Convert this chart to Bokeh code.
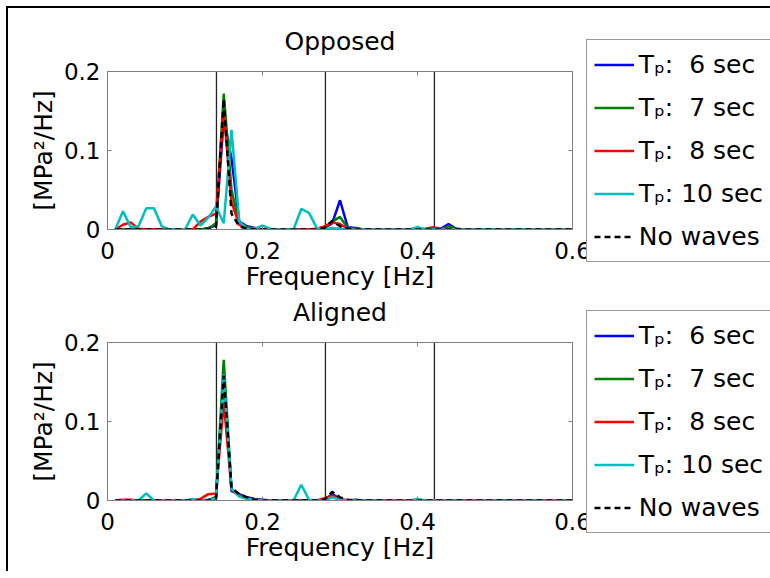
from bokeh.plotting import figure
from bokeh.layouts import column
from bokeh.models import (ColumnDataSource, FixedTicker, LinearAxis, Legend, LegendItem,
                          Range1d, Span, NumeralTickFormatter)
from bokeh.embed import file_html
from bokeh.resources import INLINE

# ---------------- data ----------------
freq = [0.01, 0.02, 0.03, 0.04, 0.05, 0.06, 0.07, 0.08, 0.09, 0.10,
        0.11, 0.12, 0.13, 0.14, 0.15, 0.16, 0.17, 0.18, 0.19, 0.20,
        0.21, 0.22, 0.23, 0.24, 0.25, 0.26, 0.27, 0.28, 0.29, 0.30,
        0.31, 0.32, 0.33, 0.34, 0.35, 0.36, 0.37, 0.38, 0.39, 0.40,
        0.41, 0.42, 0.43, 0.44, 0.45, 0.46, 0.47, 0.48, 0.49, 0.50,
        0.51, 0.52, 0.53, 0.54, 0.55, 0.56, 0.57, 0.58, 0.59, 0.60]

# Opposed
opp_6 = [0, 0, 0, 0, 0, 0, 0, 0, 0, 0,
         0, 0, 0.002, 0.005, 0.14, 0.09, 0.01, 0.004, 0.002, 0,
         0, 0, 0, 0, 0, 0, 0, 0.002, 0.008, 0.037,
         0.003, 0.002, 0, 0, 0, 0, 0, 0, 0, 0,
         0, 0, 0.001, 0.007, 0.001, 0, 0, 0, 0, 0,
         0, 0, 0, 0, 0, 0, 0, 0, 0, 0]
opp_7 = [0, 0, 0, 0, 0, 0, 0, 0, 0, 0,
         0, 0, 0.001, 0.008, 0.172, 0.05, 0.008, 0.003, 0.001, 0,
         0, 0, 0, 0, 0, 0, 0, 0.002, 0.01, 0.016,
         0.002, 0.001, 0, 0, 0, 0, 0, 0, 0, 0,
         0, 0, 0, 0.004, 0.001, 0, 0, 0, 0, 0,
         0, 0, 0, 0, 0, 0, 0, 0, 0, 0]
opp_8 = [0, 0.006, 0.009, 0.001, 0, 0, 0, 0, 0, 0,
         0, 0.01, 0.016, 0.02, 0.15, 0.035, 0.006, 0.002, 0.001, 0,
         0, 0, 0, 0, 0, 0, 0.001, 0.004, 0.009, 0.007,
         0.001, 0, 0, 0, 0, 0, 0, 0, 0, 0,
         0.001, 0.003, 0.001, 0, 0, 0, 0, 0, 0, 0,
         0, 0, 0, 0, 0, 0, 0, 0, 0, 0]
opp_10 = [0, 0.023, 0.003, 0.004, 0.027, 0.027, 0.004, 0, 0, 0,
          0.019, 0.005, 0.015, 0.029, 0.008, 0.126, 0.01, 0.001, 0.001, 0.005,
          0.001, 0, 0, 0, 0.026, 0.021, 0.002, 0, 0.002, 0.001,
          0, 0, 0, 0, 0, 0, 0, 0, 0, 0.003,
          0, 0, 0, 0, 0, 0, 0, 0, 0, 0,
          0, 0, 0, 0, 0, 0, 0, 0, 0, 0]
opp_nw = [0, 0, 0, 0, 0, 0, 0, 0, 0, 0,
          0, 0, 0, 0.004, 0.165, 0.02, 0.004, 0.001, 0, 0,
          0, 0, 0, 0, 0, 0, 0, 0.002, 0.011, 0.004,
          0.001, 0, 0, 0, 0, 0, 0, 0, 0, 0,
          0, 0, 0, 0, 0, 0, 0, 0, 0, 0,
          0, 0, 0, 0, 0, 0, 0, 0, 0, 0]

# Aligned
al_6 = [0, 0, 0, 0, 0, 0, 0, 0, 0, 0,
        0, 0, 0.001, 0.003, 0.16, 0.012, 0.008, 0.004, 0.002, 0.001,
        0, 0, 0, 0, 0, 0, 0, 0.001, 0.008, 0.002,
        0, 0.001, 0, 0, 0, 0, 0, 0, 0, 0,
        0, 0, 0, 0, 0, 0, 0, 0, 0, 0,
        0, 0, 0, 0, 0, 0, 0, 0, 0, 0]
al_7 = [0, 0, 0, 0, 0, 0, 0, 0, 0, 0,
        0, 0, 0, 0.005, 0.178, 0.014, 0.006, 0.003, 0.001, 0,
        0, 0, 0, 0, 0, 0, 0, 0.001, 0.005, 0.001,
        0, 0, 0, 0, 0, 0, 0, 0, 0, 0,
        0, 0, 0, 0, 0, 0, 0, 0, 0, 0,
        0, 0, 0, 0, 0, 0, 0, 0, 0, 0]
al_8 = [0, 0.001, 0.001, 0, 0, 0, 0, 0, 0, 0,
        0, 0.002, 0.008, 0.009, 0.125, 0.014, 0.006, 0.002, 0.001, 0,
        0, 0, 0, 0, 0, 0, 0, 0.003, 0.006, 0.001,
        0, 0, 0, 0, 0, 0, 0, 0, 0, 0,
        0, 0, 0, 0, 0, 0, 0, 0, 0, 0,
        0, 0, 0, 0, 0, 0, 0, 0, 0, 0]
al_10 = [0, 0, 0, 0, 0.009, 0, 0, 0, 0, 0,
         0.002, 0, 0, 0.003, 0.16, 0.015, 0.005, 0.002, 0.001, 0,
         0, 0, 0, 0, 0.02, 0.001, 0, 0, 0.004, 0.001,
         0, 0, 0, 0, 0, 0, 0, 0, 0, 0.002,
         0, 0, 0, 0, 0, 0, 0, 0, 0, 0,
         0, 0, 0, 0, 0, 0, 0, 0, 0, 0]
al_nw = [0, 0, 0, 0, 0, 0, 0, 0, 0, 0,
         0, 0, 0, 0.003, 0.158, 0.016, 0.008, 0.004, 0.001, 0,
         0, 0, 0, 0, 0, 0, 0, 0.001, 0.011, 0.004,
         0.001, 0, 0, 0, 0, 0, 0, 0, 0, 0,
         0, 0, 0, 0, 0, 0, 0, 0, 0, 0,
         0, 0, 0, 0, 0, 0, 0, 0, 0, 0]

vline_freqs = [0.1406, 0.2812, 0.4218]
x_ticks = [0, 0.2, 0.4, 0.6]
y_ticks = [0, 0.1, 0.2]
labels = ["T\u209a:  6 sec", "T\u209a:  7 sec", "T\u209a:  8 sec", "T\u209a: 10 sec", "No waves"]
colors = ["#0000ff", "#008000", "#ff0000", "#00bfbf", "#000000"]

FONT = "DejaVu Sans"
GRAY = "#7f7f7f"


def make_panel(title, series, b_top, b_bottom, title_standoff, transparent=False):
    p = figure(frame_width=465, frame_height=158, output_backend="svg", toolbar_location=None,
               x_range=Range1d(0, 0.6), y_range=Range1d(0, 0.2),
               min_border_left=99, min_border_right=198,
               min_border_top=b_top, min_border_bottom=b_bottom,
               background_fill_color="white", border_fill_color="white")
    if transparent:
        p.border_fill_alpha = 0
    p.grid.visible = False
    p.outline_line_color = GRAY
    p.outline_line_width = 1

    p.title.text = title
    p.title.align = "center"
    p.title.text_font = FONT
    p.title.text_font_size = "25px"
    p.title.text_font_style = "normal"
    p.title.text_color = "black"
    p.title.standoff = title_standoff

    for vf in vline_freqs:
        p.add_layout(Span(location=vf, dimension="height", line_color="#222222",
                          line_width=1.3, level="underlay"))

    src = ColumnDataSource(dict(f=freq, **{f"s{i}": s for i, s in enumerate(series)}))
    rends = []
    for i, c in enumerate(colors):
        if i == 4:
            r = p.line("f", f"s{i}", source=src, line_color=c, line_width=2.5, line_dash="6 4")
        else:
            r = p.line("f", f"s{i}", source=src, line_color=c, line_width=2.5)
        rends.append(r)

    # axes
    p.xaxis.ticker = FixedTicker(ticks=x_ticks)
    p.yaxis.ticker = FixedTicker(ticks=y_ticks)
    p.xaxis.formatter = NumeralTickFormatter(format="0.[0]")
    p.yaxis.formatter = NumeralTickFormatter(format="0.[0]")
    p.xaxis.axis_label = "Frequency [Hz]"
    p.yaxis.axis_label = "[MPa\u00b2/Hz]"
    for ax in (p.xaxis[0], p.yaxis[0]):
        ax.axis_line_color = GRAY
        ax.major_tick_line_color = GRAY
        ax.major_tick_in = 4
        ax.major_tick_out = 0
        ax.minor_tick_line_color = None
        ax.major_label_text_font = FONT
        ax.major_label_text_font_size = "23px"
        ax.major_label_text_color = "black"
        ax.axis_label_text_font = FONT
        ax.axis_label_text_font_size = "25px"
        ax.axis_label_text_font_style = "normal"
        ax.axis_label_text_color = "black"
    p.xaxis.major_label_standoff = 12
    p.xaxis.axis_label_standoff = 0
    p.yaxis.major_label_standoff = 7
    p.yaxis.axis_label_standoff = 3

    # tick marks on top / right (box on), without labels
    top = LinearAxis(ticker=FixedTicker(ticks=x_ticks), major_label_text_font_size="0px",
                     major_label_text_color=None,
                     axis_line_color=GRAY, major_tick_line_color=GRAY,
                     major_tick_in=4, major_tick_out=0, minor_tick_line_color=None,
                     major_label_standoff=0)
    right = LinearAxis(ticker=FixedTicker(ticks=y_ticks), major_label_text_font_size="0px",
                       major_label_text_color=None,
                       axis_line_color=GRAY, major_tick_line_color=GRAY,
                       major_tick_in=4, major_tick_out=0, minor_tick_line_color=None,
                       major_label_standoff=0)
    p.add_layout(top, "above")
    p.add_layout(right, "right")

    legend = Legend(items=[LegendItem(label=l, renderers=[r]) for l, r in zip(labels, rends)],
                    location=(-216, -33), orientation="vertical",
                    label_text_font=FONT, label_text_font_size="25px",
                    label_text_color="black",
                    glyph_width=40, glyph_height=35, label_height=35,
                    spacing=8, padding=7, margin=0, label_standoff=5,
                    border_line_color="#333333", border_line_width=1,
                    background_fill_color="white", background_fill_alpha=1.0)
    p.add_layout(legend, "right")
    return p


p1 = make_panel("Opposed", [opp_6, opp_7, opp_8, opp_10, opp_nw], 63, 71, 32)
p2 = make_panel("Aligned", [al_6, al_7, al_8, al_10, al_nw], 63, 71, 32, transparent=True)
p2.margin = (-21, 0, 0, 0)

layout = column(p1, p2, spacing=0,
                styles={"margin-left": "6px", "margin-top": "6px",
                        "border-top": "2px solid black", "border-left": "2px solid black"})

open("out.html", "w").write(file_html(layout, INLINE))
